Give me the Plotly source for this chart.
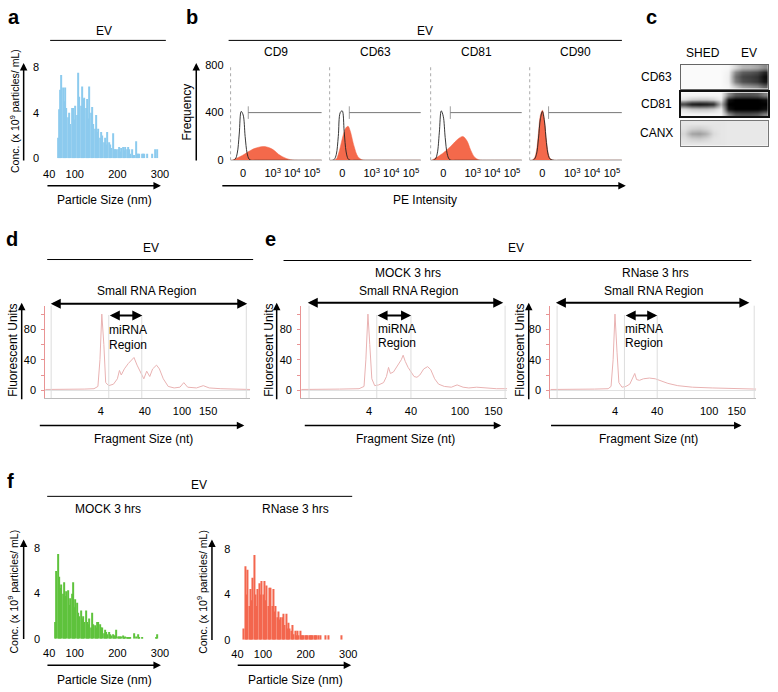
import plotly.graph_objects as go

# =====================================================
# CANVAS / STYLE
# =====================================================

W, H = 778, 692
FONT = "Liberation Sans, Arial, Helvetica, sans-serif"

BLUE = "#8CCBEE"
GREEN = "#5EC23C"
RED = "#F3664E"
FLOW_FILL = "#F4694B"
TRACE_PINK = "#E9B2B2"
AXIS_PINK = "#E99494"

# =====================================================
# DATA
# =====================================================

# a) NTA - EV (3 nm bins)
EV_SIZE = list(range(60, 297, 3))
EV_CONC = [
    1.8, 4.3, 6.0, 7.3, 6.2, 5.0, 6.2, 4.4, 3.6, 4.0,
    3.0, 4.4, 4.4, 3.4, 4.6, 3.8, 7.5, 5.4, 4.6, 6.3,
    5.2, 5.3, 4.4, 5.2, 3.5, 6.3, 4.0, 4.5, 3.0, 2.6,
    3.8, 2.3, 2.6, 1.8, 2.3, 2.0, 1.4, 1.8, 1.2, 2.3,
    1.4, 1.2, 0.9, 2.2, 0.8, 0.8, 0.8, 0.8, 1.0, 0.6,
    0.9, 1.0, 0.7, 1.0, 0.8, 1.0, 0.8, 0.4, 0.8, 0.3,
    0.3, 1.5, 0.4, 0.4, 0.4, 0.0, 0.4, 0.4, 0.4, 0.0,
    0.4, 0.0, 0.0, 0.0, 0.4, 0.0, 0.8, 0.0, 0.8,
]
NTA_TICKS = [40, 100, 200, 300]
CONC_TICKS = [0, 4, 8]

# b) flow cytometry, biexponential display units
FLOW_MARKERS = ["CD9", "CD63", "CD81", "CD90"]
FLOW_X = [-0.6, -0.5, -0.4, -0.3, -0.2, -0.1, 0.0, 0.1, 0.2, 0.3, 0.4, 0.6, 0.8,
          1.0, 1.2, 1.4, 1.6, 1.8, 2.0, 2.2, 2.4, 2.6, 2.8, 3.0, 3.4, 4.0]
ISO_CD9 = [0, 0, 10, 60, 220, 410, 380, 200, 60, 10, 0, 0, 0, 0, 0, 0, 0, 0, 0, 0, 0, 0, 0, 0, 0, 0]
PE_CD9 = [0, 5, 12, 20, 28, 35, 45, 55, 65, 75, 85, 100, 110, 115, 112, 100, 80, 50, 30, 15, 5, 1, 0, 0, 0, 0]
ISO_CD63 = [0, 0, 8, 50, 200, 400, 415, 240, 70, 12, 0, 0, 0, 0, 0, 0, 0, 0, 0, 0, 0, 0, 0, 0, 0, 0]
PE_CD63 = [0, 0, 3, 10, 50, 110, 180, 240, 275, 285, 250, 120, 30, 5, 0, 0, 0, 0, 0, 0, 0, 0, 0, 0, 0, 0]
ISO_CD81 = [0, 0, 10, 60, 230, 415, 370, 190, 55, 10, 0, 0, 0, 0, 0, 0, 0, 0, 0, 0, 0, 0, 0, 0, 0, 0]
PE_CD81 = [0, 8, 18, 28, 38, 50, 62, 75, 90, 105, 120, 155, 185, 200, 165, 85, 25, 5, 0, 0, 0, 0, 0, 0, 0, 0]
ISO_CD90 = [0, 0, 10, 50, 180, 350, 410, 330, 150, 40, 8, 0, 0, 0, 0, 0, 0, 0, 0, 0, 0, 0, 0, 0, 0, 0]
PE_CD90 = [0, 3, 20, 80, 230, 380, 420, 340, 170, 55, 12, 0, 0, 0, 0, 0, 0, 0, 0, 0, 0, 0, 0, 0, 0, 0]
GATE_START = [0.26, 0.36, 0.36, 0.31]
GATE_LEVEL = 400
FLOW_TICKS = [0, 1.5, 2.5, 3.5]
FLOW_TICKTEXT = ["0", "10<sup>3</sup>", "10<sup>4</sup>", "10<sup>5</sup>"]
FREQ_TICKS = [0, 400, 800]

# c) western blot band intensities (rows bottom -> top, SHED lane left, EV lane right)
BLOT_LANES = ["SHED", "EV"]
BLOT_TARGETS = ["CD63", "CD81", "CANX"]
BLOT_CD63 = [
    [0.02, 0.02, 0.02, 0.02, 0.02, 0.02, 0.04, 0.20, 0.35, 0.40, 0.45, 0.60],
    [0.02, 0.02, 0.02, 0.02, 0.02, 0.02, 0.06, 0.50, 0.68, 0.72, 0.78, 0.92],
    [0.02, 0.02, 0.02, 0.02, 0.02, 0.02, 0.06, 0.55, 0.72, 0.75, 0.80, 0.95],
    [0.02, 0.02, 0.02, 0.02, 0.02, 0.02, 0.05, 0.45, 0.62, 0.65, 0.70, 0.85],
    [0.02, 0.02, 0.02, 0.02, 0.02, 0.02, 0.03, 0.15, 0.28, 0.30, 0.35, 0.45],
]
BLOT_CD81 = [
    [0.04, 0.04, 0.04, 0.04, 0.04, 0.04, 0.45, 0.65, 0.68, 0.68, 0.65, 0.50],
    [0.12, 0.20, 0.22, 0.22, 0.18, 0.08, 0.92, 1.00, 1.00, 1.00, 1.00, 0.95],
    [0.75, 0.92, 0.95, 0.92, 0.85, 0.30, 1.00, 1.00, 1.00, 1.00, 1.00, 1.00],
    [0.12, 0.20, 0.22, 0.22, 0.18, 0.08, 0.92, 1.00, 1.00, 1.00, 1.00, 0.95],
    [0.04, 0.04, 0.04, 0.04, 0.04, 0.04, 0.45, 0.65, 0.68, 0.68, 0.65, 0.50],
]
BLOT_CANX = [
    [0.10, 0.10, 0.10, 0.10, 0.10, 0.10, 0.09, 0.09, 0.09, 0.09, 0.09, 0.09],
    [0.12, 0.18, 0.20, 0.16, 0.11, 0.10, 0.09, 0.09, 0.09, 0.09, 0.09, 0.09],
    [0.16, 0.35, 0.38, 0.30, 0.14, 0.10, 0.09, 0.09, 0.09, 0.09, 0.09, 0.09],
    [0.12, 0.18, 0.20, 0.16, 0.11, 0.10, 0.09, 0.09, 0.09, 0.09, 0.09, 0.09],
    [0.10, 0.10, 0.10, 0.10, 0.10, 0.10, 0.09, 0.09, 0.09, 0.09, 0.09, 0.09],
]

# d, e) Bioanalyzer small RNA electropherograms (x = % of run window)
EP_EV_X = [0, 9.5, 19, 23.8, 25.7, 26.7, 27.6, 28.6, 29.5, 31, 33.3, 35.2, 36.2, 37.1,
           38.6, 40.5, 42.4, 43.3, 44.8, 46.7, 48.1, 49.5, 51, 52.4, 54.3, 55.7, 57.6,
           60, 62.9, 65.7, 67.6, 69.5, 73.8, 77.1, 80, 85.7, 92.9, 100]
EP_EV_FU = [1, 1, 1.5, 2, 5, 40, 100, 60, 10, 6, 8, 15, 26, 20, 28, 35, 40, 43, 33, 22,
            15, 25, 18, 28, 33, 28, 15, 5, 3, 4, 10, 4, 3, 6, 3, 2, 1.5, 1]
EP_MOCK_X = [0, 9, 18.6, 28.1, 30.5, 31.4, 32.4, 33.3, 34.3, 35.7, 37.6, 40, 41.4, 42.4,
             43.3, 44.8, 46.2, 47.6, 48.6, 49.5, 50.5, 51.9, 53.3, 54.8, 56.2, 57.6, 59.5,
             61.4, 62.9, 64.8, 66.7, 69.5, 72.9, 75.7, 78.6, 81.4, 85.2, 90, 94.8, 100]
EP_MOCK_FU = [1, 1, 1.5, 2, 5, 40, 100, 60, 15, 6, 7, 10, 18, 30, 22, 24, 30, 36, 40, 46,
              38, 30, 24, 18, 17, 20, 28, 31, 27, 15, 8, 5, 4, 7, 4, 3, 4, 3, 2, 2]
EP_RNASE_X = [0, 11.9, 21.4, 28.1, 29.5, 30.5, 31.4, 32.4, 33.3, 34.8, 36.7, 38.6, 40,
              41, 41.9, 43.3, 45.2, 48.1, 51, 53.8, 57.1, 61.9, 69, 78.6, 90.5, 100]
EP_RNASE_FU = [1, 1, 1.5, 2, 5, 40, 100, 50, 10, 4, 5, 8, 15, 22, 14, 13, 15, 16, 15,
               12, 9, 6, 4, 3, 2, 1.5]
FRAG_LABELS = ["4", "40", "100", "150"]
EV_FRAG_TICKS = [27.1, 48.6, 66.7, 79.5]
MOCK_FRAG_TICKS = [32.9, 53.3, 77.1, 93.3]
RNASE_FRAG_TICKS = [31.4, 51.9, 77.1, 90.5]
EV_BOUNDS = [2.9, 31, 47.1, 98.1]
MOCK_BOUNDS = [3.8, 36.7, 53.3, 99]
RNASE_BOUNDS = [3.3, 36, 51.9, 99]
FU_TICKS = [0, 20, 40, 60, 80, 100]
FU_TICKTEXT = ["0", "", "40", "", "80", ""]

# f) NTA after MOCK / RNase treatment (3 nm bins)
MOCK_SIZE = list(range(54, 297, 3))
MOCK_CONC = [
    1.5, 6.0, 7.5, 5.5, 4.5, 4.8, 4.0, 5.0, 3.8, 4.2,
    4.3, 3.0, 3.6, 4.0, 5.0, 2.8, 3.5, 3.2, 2.3, 2.0,
    2.5, 1.8, 2.0, 1.5, 2.5, 1.5, 1.3, 1.8, 1.0, 2.3,
    1.3, 1.2, 1.0, 1.5, 1.5, 1.3, 1.0, 1.0, 0.5, 0.8,
    0.6, 0.4, 0.6, 0.4, 0.3, 0.4, 0.3, 0.3, 0.8, 0.2,
    0.2, 0.2, 0.2, 0.3, 0.1, 0.2, 0.1, 0.1, 0.1, 0.1,
    0.0, 0.0, 0.5, 0.2, 0.0, 0.4, 0.1, 0.0, 0.1, 0.0,
    0.0, 0.0, 0.0, 0.0, 0.0, 0.0, 0.0, 0.0, 0.0, 0.1,
    0.4,
]
RNASE_SIZE = list(range(55, 298, 3))
RNASE_CONC = [
    1.0, 6.5, 4.0, 6.2, 3.0, 4.5, 3.5, 5.5, 7.5, 4.0,
    3.0, 4.5, 5.0, 4.0, 5.2, 4.0, 5.2, 3.5, 4.8, 3.0,
    4.6, 4.6, 3.0, 4.5, 2.5, 3.0, 2.0, 2.5, 1.8, 2.0,
    2.0, 2.3, 1.3, 2.3, 1.0, 1.5, 1.0, 0.8, 1.3, 0.5,
    0.8, 0.4, 0.8, 0.4, 0.8, 0.4, 0.4, 0.4, 0.4, 0.4,
    0.4, 0.4, 0.4, 0.4, 0.4, 0.4, 0.4, 0.4, 0.4, 0.0,
    0.4, 0.0, 0.0, 0.0, 0.4, 0.0, 0.4, 0.0, 0.0, 0.0,
    0.0, 0.0, 0.0, 0.0, 0.0, 0.0, 0.4, 0.0, 0.0, 0.0,
    0.0,
]

# =====================================================
# HELPERS
# =====================================================

fig = go.Figure()
layout = {}
shapes = []
notes = []

TICKFONT = dict(family=FONT, size=11, color="black")
BASE_AXIS = dict(showgrid=False, zeroline=False, showline=False, ticks="",
                 tickfont=TICKFONT, fixedrange=True)


def sfx(n):
    return "" if n == 1 else str(n)


def set_axes(n, xpx, ypx, xa, ya):
    s = sfx(n)
    layout["xaxis" + s] = dict(BASE_AXIS, domain=[xpx[0] / W, xpx[1] / W], anchor="y" + s, **xa)
    layout["yaxis" + s] = dict(BASE_AXIS, domain=[1 - ypx[1] / H, 1 - ypx[0] / H], anchor="x" + s, **ya)


def text(px, py, s, size=12, angle=0, anchor="center"):
    notes.append(dict(x=px / W, y=1 - py / H, xref="paper", yref="paper", text=s,
                      showarrow=False, textangle=angle, xanchor=anchor, yanchor="middle",
                      font=dict(family=FONT, size=size, color="black")))


def letter(px, py, s):
    text(px, py, "<b>" + s + "</b>", size=20)


def rule(x0, x1, py, width=1):
    shapes.append(dict(type="line", xref="paper", yref="paper", x0=x0 / W, x1=x1 / W,
                       y0=1 - py / H, y1=1 - py / H, line=dict(color="black", width=width)))


def arrow(x0, y0, x1, y1, both=False, width=1.5):
    notes.append(dict(x=x1 / W, y=1 - y1 / H, xref="paper", yref="paper",
                      ax=x0 - x1, ay=y0 - y1, axref="pixel", ayref="pixel", text="",
                      showarrow=True, arrowhead=2, startarrowhead=2, arrowsize=1,
                      arrowwidth=width, arrowcolor="black",
                      arrowside="end+start" if both else "end"))


# =====================================================
# a. NTA - EV
# =====================================================

fig.add_trace(go.Bar(x=EV_SIZE, y=EV_CONC, width=2.4, marker=dict(color=BLUE, line_width=0),
                     xaxis="x", yaxis="y"))
set_axes(1, (44, 157), (57.5, 155),
         dict(range=[40, 300], tickvals=NTA_TICKS, ticklabelstandoff=8),
         dict(range=[0, 8.4], tickvals=CONC_TICKS, ticklabelstandoff=9))

letter(8, 11, "a")
text(100, 25, "EV")
rule(45, 163, 35)
text(8, 107, "Conc. (x 10<sup>9</sup> particles/ mL)", size=10.5, angle=-90)
arrow(18, 157, 18, 58)
arrow(43, 183, 158, 183)
text(100, 197, "Particle Size (nm)")

# =====================================================
# b. FLOW CYTOMETRY
# =====================================================

flow_iso = [ISO_CD9, ISO_CD63, ISO_CD81, ISO_CD90]
flow_pe = [PE_CD9, PE_CD63, PE_CD81, PE_CD90]
flow_px = [(229, 322), (330, 423), (433, 526), (534, 628)]

for i, name in enumerate(FLOW_MARKERS):
    n = 2 + i
    s = sfx(n)
    fig.add_trace(go.Scatter(x=FLOW_X, y=flow_pe[i], mode="lines", line=dict(color=FLOW_FILL, width=0.5, shape="spline"),
                             fill="tozeroy", fillcolor=FLOW_FILL, xaxis="x" + s, yaxis="y" + s))
    fig.add_trace(go.Scatter(x=FLOW_X, y=flow_iso[i], mode="lines", line=dict(color="#222222", width=0.9, shape="spline"),
                             xaxis="x" + s, yaxis="y" + s))
    fig.add_trace(go.Scatter(x=[GATE_START[i], 4.0], y=[GATE_LEVEL, GATE_LEVEL], mode="lines+markers",
                             line=dict(color="#777777", width=1),
                             marker=dict(symbol="line-ns", size=[9, 0], line=dict(color="#777777", width=1)),
                             xaxis="x" + s, yaxis="y" + s))
    set_axes(n, flow_px[i], (60, 157),
             dict(range=[-0.64, 4.0], tickvals=FLOW_TICKS, ticktext=FLOW_TICKTEXT, ticklabelstandoff=3,
                  showline=True, linecolor="#CCCCCC", linewidth=1),
             dict(range=[0, 800], tickvals=FREQ_TICKS, showticklabels=(i == 0), ticklabelstandoff=6))
    shapes.append(dict(type="line", xref="x%s domain" % s, yref="y%s domain" % s, x0=0, x1=0, y0=0, y1=1,
                       line=dict(color="#AAAAAA", width=1, dash="dot")))
    text((flow_px[i][0] + flow_px[i][1]) / 2, 47, name)

letter(190, 11, "b")
text(427, 25, "EV")
rule(227, 628, 35)
text(185, 108, "Frequency", angle=-90)
arrow(194, 157, 194, 58)
arrow(227, 183, 632, 183)
text(427, 197, "PE Intensity")

# =====================================================
# c. WESTERN BLOT
# =====================================================

blots = [BLOT_CD63, BLOT_CD81, BLOT_CANX]
blot_py = [(60, 84), (88, 112), (117, 142)]
blot_border = [("#666666", 1), ("#111111", 1.5), ("#777777", 1)]

for i, z in enumerate(blots):
    n = 6 + i
    s = sfx(n)
    fig.add_trace(go.Heatmap(z=z, zmin=0, zmax=1, zsmooth="best", showscale=False,
                             colorscale=[[0, "#FFFFFF"], [1, "#000000"]], xaxis="x" + s, yaxis="y" + s))
    set_axes(n, (688, 777), blot_py[i],
             dict(range=[-0.5, 11.5], showticklabels=False, showline=True, mirror=True,
                  linecolor=blot_border[i][0], linewidth=blot_border[i][1]),
             dict(range=[-0.5, 4.5], showticklabels=False, showline=True, mirror=True,
                  linecolor=blot_border[i][0], linewidth=blot_border[i][1]))
    text(663, (blot_py[i][0] + blot_py[i][1]) / 2, BLOT_TARGETS[i])

letter(658, 11, "c")
text(711, 48, BLOT_LANES[0])
text(758, 48, BLOT_LANES[1])

# =====================================================
# d, e. ELECTROPHEROGRAMS
# =====================================================

ep_panels = [
    (9, EP_EV_X, EP_EV_FU, EV_FRAG_TICKS, EV_BOUNDS, (40, 249)),
    (10, EP_MOCK_X, EP_MOCK_FU, MOCK_FRAG_TICKS, MOCK_BOUNDS, (301, 511)),
    (11, EP_RNASE_X, EP_RNASE_FU, RNASE_FRAG_TICKS, RNASE_BOUNDS, (555, 765)),
]

for n, xs, ys, ticks, bounds, xpx in ep_panels:
    s = sfx(n)
    for j, b in enumerate(bounds):
        shapes.append(dict(type="line", xref="x" + s, yref="y%s domain" % s, x0=b, x1=b, y0=0,
                           y1=1 if j in (0, 3) else 0.9, line=dict(color="#DDDDDD", width=1)))
    fig.add_trace(go.Scatter(x=xs, y=ys, mode="lines", line=dict(color=TRACE_PINK, width=1),
                             xaxis="x" + s, yaxis="y" + s))
    set_axes(n, xpx, (305, 399),
             dict(range=[0, 100], tickvals=ticks, ticktext=FRAG_LABELS, ticklabelstandoff=3,
                  showline=True, linecolor="#BBBBBB", linewidth=1),
             dict(range=[-10.3, 111], tickvals=FU_TICKS, ticktext=FU_TICKTEXT, ticks="outside",
                  ticklen=3, tickcolor=AXIS_PINK, showline=True, linecolor=AXIS_PINK, linewidth=1,
                  zeroline=True, zerolinecolor="#E2E2E2", zerolinewidth=1, ticklabelstandoff=3))

letter(6, 237, "d")
text(148, 246, "EV")
rule(42, 252, 258)
text(143, 290, "Small RNA Region")
arrow(48, 303, 246, 303, both=True, width=2)
arrow(105, 315, 139, 315, both=True, width=2)
text(103, 330, "miRNA", anchor="left")
text(103, 345, "Region", anchor="left")
text(7, 350, "Fluorescent Units", angle=-90)
arrow(16, 400, 16, 302)
arrow(37, 427, 243, 427)
text(140, 441, "Fragment Size (nt)")

letter(270, 237, "e")
text(520, 246, "EV")
rule(283, 760, 259)
text(410, 272, "MOCK 3 hrs")
text(410, 290, "Small RNA Region")
arrow(310, 302, 507, 302, both=True, width=2)
arrow(378, 315, 413, 315, both=True, width=2)
text(377, 329, "miRNA", anchor="left")
text(377, 343, "Region", anchor="left")
text(268, 350, "Fluorescent Units", angle=-90)
arrow(276, 400, 276, 302)
arrow(307, 427, 505, 427)
text(407, 441, "Fragment Size (nt)")

text(662, 272, "RNase 3 hrs")
text(660, 290, "Small RNA Region")
arrow(563, 302, 758, 302, both=True, width=2)
arrow(631, 315, 664, 315, both=True, width=2)
text(629, 329, "miRNA", anchor="left")
text(629, 343, "Region", anchor="left")
text(524, 350, "Fluorescent Units", angle=-90)
arrow(533, 400, 533, 302)
arrow(558, 427, 750, 427)
text(655, 441, "Fragment Size (nt)")

# =====================================================
# f. NTA AFTER MOCK / RNASE
# =====================================================

fig.add_trace(go.Bar(x=MOCK_SIZE, y=MOCK_CONC, width=2.4, marker=dict(color=GREEN, line_width=0),
                     xaxis="x12", yaxis="y12"))
set_axes(12, (44, 157), (547.4, 644),
         dict(range=[40, 300], tickvals=NTA_TICKS, ticklabelstandoff=6),
         dict(range=[0, 8.4], tickvals=CONC_TICKS, ticklabelstandoff=8))

fig.add_trace(go.Bar(x=RNASE_SIZE, y=RNASE_CONC, width=2.4, marker=dict(color=RED, line_width=0),
                     xaxis="x13", yaxis="y13"))
set_axes(13, (236, 349), (548.4, 645),
         dict(range=[40, 300], tickvals=NTA_TICKS, ticklabelstandoff=6),
         dict(range=[0, 8.4], tickvals=CONC_TICKS, ticklabelstandoff=6))

letter(5, 483, "f")
text(197, 487, "EV")
rule(42, 353, 499)
text(104, 512, "MOCK 3 hrs")
text(295, 512, "RNase 3 hrs")
text(7, 596, "Conc. (x 10<sup>9</sup> particles/ mL)", size=10.5, angle=-90)
text(200, 596, "Conc. (x 10<sup>9</sup> particles/ mL)", size=10.5, angle=-90)
arrow(18, 644, 18, 543)
arrow(210, 645, 210, 543)
arrow(43, 671, 158, 671)
arrow(237, 671, 352, 671)
text(100, 686, "Particle Size (nm)")
text(295, 686, "Particle Size (nm)")

# =====================================================
# LAYOUT
# =====================================================

fig.update_layout(
    width=W,
    height=H,
    margin=dict(l=0, r=0, t=0, b=0),
    paper_bgcolor="white",
    plot_bgcolor="white",
    showlegend=False,
    font=dict(family=FONT, color="black"),
    shapes=shapes,
    annotations=notes,
    **layout
)

# page body margin would push the 778x692 figure off the window
fig.write_html("out.html", config={"displayModeBar": False},
               post_script="document.body.style.margin='0px';")
